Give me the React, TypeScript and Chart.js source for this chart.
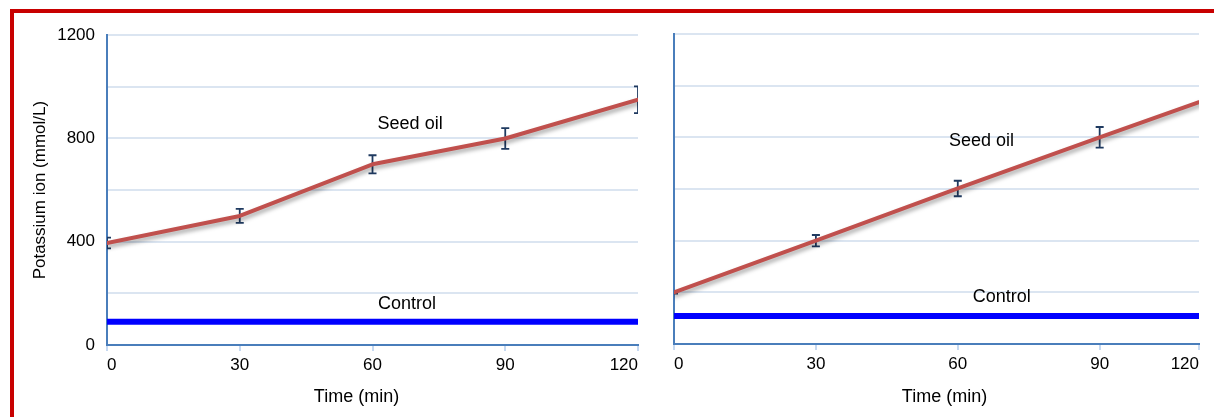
import React, { useEffect, useRef } from "react";
import { Chart, registerables } from "chart.js";

Chart.register(...registerables);

// ---- data ----
const timePoints = [0, 30, 60, 90, 120];
const xTickLabels = ["0", "30", "60", "90", "120"];
const yLabelValues = [0, 400, 800, 1200];

const leftSeedOil = [395, 500, 700, 800, 950];
const leftSeedOilErr = [21, 27, 35, 40, 52];
const leftControl = [90, 90, 90, 90, 90];

const rightSeedOil = [200, 400, 602, 800, 995];
const rightSeedOilErr = [5, 22, 30, 40, 45];
const rightControl = [108, 108, 108, 108, 108];

// right panel is cropped: visible time range ends before 120
const rightXMax = 111;

// ---- styles ----
const FONT = "'Liberation Sans', Arial, Helvetica, sans-serif";
const AXIS_BLUE = "#4a7ebb";
const GRID_BLUE = "#dbe5f1";
const TICK_BLUE = "#c6d9f1";
const SEED_RED = "#c0504d";
const CONTROL_BLUE = "#0000ff";
const ERR_COLOR = "#1f3a60";

type Note = { text: string; x: number; y: number };

type PanelSpec = {
  seed: number[];
  err: number[];
  control: number[];
  xMax: number;
  tickPositions: number[];
  showY: boolean;
  notes: Note[];
  xTitleShift: number;
  yAxisWidth: number;
  xAxisHeight: number;
  padRight: number;
  width: number;
  height: number;
  left: number;
  top: number;
};

const leftSpec: PanelSpec = {
  seed: leftSeedOil,
  err: leftSeedOilErr,
  control: leftControl,
  xMax: 120,
  tickPositions: timePoints,
  showY: true,
  notes: [
    { text: "Seed oil", x: 68.5, y: 857 },
    { text: "Control", x: 67.8, y: 158 },
  ],
  xTitleShift: -16,
  yAxisWidth: 93,
  xAxisHeight: 72,
  padRight: 12,
  width: 636,
  height: 404,
  left: 14,
  top: 13,
};

const rightSpec: PanelSpec = {
  seed: rightSeedOil,
  err: rightSeedOilErr,
  control: rightControl,
  xMax: rightXMax,
  tickPositions: [0, 30, 60, 90, rightXMax],
  showY: false,
  notes: [
    { text: "Seed oil", x: 65, y: 785 },
    { text: "Control", x: 69.3, y: 182 },
  ],
  xTitleShift: 8,
  yAxisWidth: 24,
  xAxisHeight: 73,
  padRight: 15,
  width: 564,
  height: 404,
  left: 650,
  top: 13,
};

function Panel({ spec }: { spec: PanelSpec }) {
  const ref = useRef<HTMLCanvasElement | null>(null);

  useEffect(() => {
    if (!ref.current) return;

    const shadowPlugin = {
      id: "lineShadow",
      beforeDatasetDraw(chart: any, args: any) {
        if (args.index !== 0) return;
        const ctx = chart.ctx;
        ctx.save();
        ctx.shadowColor = "rgba(0,0,0,0.35)";
        ctx.shadowBlur = 4;
        ctx.shadowOffsetX = 1;
        ctx.shadowOffsetY = 3;
      },
      afterDatasetDraw(chart: any, args: any) {
        if (args.index !== 0) return;
        chart.ctx.restore();
      },
    };

    const errorBarPlugin = {
      id: "errorBars",
      beforeDatasetsDraw(chart: any) {
        const { ctx, chartArea: a } = chart;
        const x = chart.scales.x;
        const y = chart.scales.y;
        ctx.save();
        ctx.beginPath();
        ctx.rect(a.left, a.top, a.right - a.left, a.bottom - a.top);
        ctx.clip();
        ctx.strokeStyle = ERR_COLOR;
        ctx.lineWidth = 1.8;
        timePoints.forEach((t, i) => {
          const px = x.getPixelForValue(t);
          const top = y.getPixelForValue(spec.seed[i] + spec.err[i]);
          const bot = y.getPixelForValue(spec.seed[i] - spec.err[i]);
          ctx.beginPath();
          ctx.moveTo(px, top);
          ctx.lineTo(px, bot);
          ctx.moveTo(px - 4, top);
          ctx.lineTo(px + 4, top);
          ctx.moveTo(px - 4, bot);
          ctx.lineTo(px + 4, bot);
          ctx.stroke();
        });
        ctx.restore();
      },
    };

    const notesPlugin = {
      id: "notes",
      afterDatasetsDraw(chart: any) {
        const { ctx, chartArea: a } = chart;
        const x = chart.scales.x;
        const y = chart.scales.y;
        ctx.save();
        ctx.fillStyle = "#000";
        ctx.font = `18px ${FONT}`;
        ctx.textAlign = "center";
        ctx.textBaseline = "middle";
        spec.notes.forEach((n) => {
          ctx.fillText(n.text, x.getPixelForValue(n.x), y.getPixelForValue(n.y));
        });
        // x-axis title, slightly off-centre as in the source figure
        ctx.fillText(
          "Time (min)",
          (a.left + a.right) / 2 + spec.xTitleShift,
          x.bottom - 20
        );
        ctx.restore();
      },
    };

    const chart = new Chart(ref.current, {
      type: "line",
      data: {
        datasets: [
          {
            label: "Seed oil",
            data: timePoints.map((t, i) => ({ x: t, y: spec.seed[i] })),
            borderColor: SEED_RED,
            borderWidth: 4,
            pointRadius: 0,
            tension: 0,
            borderCapStyle: "round",
            borderJoinStyle: "round",
            fill: false,
          },
          {
            label: "Control",
            data: timePoints.map((t, i) => ({ x: t, y: spec.control[i] })),
            borderColor: CONTROL_BLUE,
            borderWidth: 6,
            pointRadius: 0,
            tension: 0,
            fill: false,
          },
        ],
      },
      options: {
        responsive: false,
        maintainAspectRatio: false,
        animation: false,
        events: [],
        layout: {
          padding: { left: 0, top: 21, right: spec.padRight, bottom: 0 },
        },
        plugins: {
          legend: { display: false },
          tooltip: { enabled: false },
          title: { display: false },
        },
        scales: {
          x: {
            type: "linear",
            min: 0,
            max: spec.xMax,
            offset: false,
            afterBuildTicks: (scale: any) => {
              scale.ticks = spec.tickPositions.map((v) => ({ value: v }));
            },
            afterFit: (scale: any) => {
              scale.height = spec.xAxisHeight;
            },
            grid: {
              drawOnChartArea: false,
              drawTicks: true,
              tickLength: 6,
              color: TICK_BLUE,
              lineWidth: 2,
            },
            border: { display: true, color: AXIS_BLUE, width: 2 },
            ticks: {
              align: "inner",
              maxRotation: 0,
              autoSkip: false,
              padding: 4,
              color: "#000",
              font: { family: FONT, size: 17 },
              callback: (_v: any, index: number) => xTickLabels[index],
            },
            title: { display: false },
          },
          y: {
            type: "linear",
            min: 0,
            max: 1200,
            afterFit: (scale: any) => {
              scale.width = spec.yAxisWidth;
            },
            grid: {
              drawOnChartArea: true,
              drawTicks: false,
              color: GRID_BLUE,
              lineWidth: 2,
            },
            border: { display: true, color: AXIS_BLUE, width: 2 },
            ticks: {
              display: spec.showY,
              stepSize: 200,
              padding: 12,
              color: "#000",
              font: { family: FONT, size: 17 },
              callback: (v: any) => (yLabelValues.includes(Number(v)) ? String(v) : ""),
            },
            title: {
              display: spec.showY,
              text: "Potassium ion (mmol/L)",
              color: "#000",
              font: { family: FONT, size: 17 },
              padding: { top: 16, bottom: 0 },
            },
          },
        },
      } as any,
      plugins: [errorBarPlugin, shadowPlugin, notesPlugin],
    });

    return () => chart.destroy();
  }, [spec]);

  return (
    <canvas
      ref={ref}
      width={spec.width}
      height={spec.height}
      style={{
        position: "absolute",
        left: spec.left,
        top: spec.top,
        width: spec.width,
        height: spec.height,
      }}
    />
  );
}

export default function App() {
  useEffect(() => {
    document.documentElement.style.overflow = "hidden";
    document.body.style.overflow = "hidden";
  }, []);

  return (
    <div
      style={{
        position: "absolute",
        left: 0,
        top: 0,
        width: 1214,
        height: 417,
        overflow: "hidden",
        background: "#fff",
      }}
    >
      <div
        style={{
          position: "absolute",
          left: 10,
          top: 9,
          width: 1204,
          height: 408,
          boxSizing: "border-box",
          borderTop: "4px solid #c80000",
          borderLeft: "4px solid #c80000",
        }}
      />
      <Panel spec={leftSpec} />
      <Panel spec={rightSpec} />
    </div>
  );
}
